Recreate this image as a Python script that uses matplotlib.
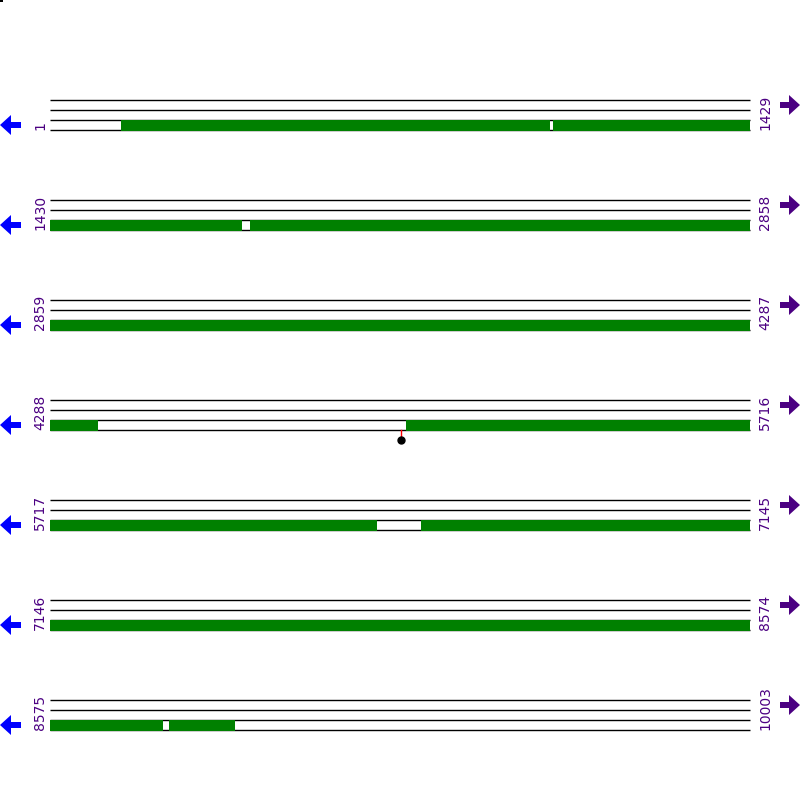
import matplotlib
matplotlib.use("Agg")
import matplotlib.pyplot as plt
from matplotlib.patches import Polygon, Rectangle

# ---- data ----
row_starts = [1, 1430, 2859, 4288, 5717, 7146, 8575]
row_ends = [1429, 2858, 4287, 5716, 7145, 8574, 10003]
green_starts = [146, 1028, 1430, 1838, 2859, 4288, 5014, 5717, 6475, 7146, 8575, 8818]
green_ends = [1021, 1429, 1821, 2858, 4287, 4384, 5716, 6384, 7145, 8574, 8805, 8952]
marker_positions = [5003]

# ---- style ----
GREEN = "#008000"
BLUE = "#0000ff"
PURPLE = "#4b0082"
W, H = 800, 800
row_pitch = 100
first_top = 100
left_px, right_px = 50, 750
n_tracks = 4
track_px = 10

fig = plt.figure(figsize=(8, 8), dpi=100)
fig.patch.set_facecolor("white")

# overlay axes in pixel coordinates for arrows / labels
ov = fig.add_axes([0, 0, 1, 1])
ov.set_xlim(0, W)
ov.set_ylim(H, 0)
ov.axis("off")
ov.add_patch(Rectangle((0, 0), 3, 2, color="black", lw=0))


def left_arrow(yc):
    pts = [(0, yc), (11, yc - 10), (11, yc - 3), (21, yc - 3), (21, yc + 3), (11, yc + 3), (11, yc + 10)]
    ov.add_patch(Polygon(pts, closed=True, color=BLUE, lw=0))


def right_arrow(yc):
    pts = [(800, yc), (789, yc - 10), (789, yc - 3), (780, yc - 3), (780, yc + 3), (789, yc + 3), (789, yc + 10)]
    ov.add_patch(Polygon(pts, closed=True, color=PURPLE, lw=0))


for i, (rs, re) in enumerate(zip(row_starts, row_ends)):
    top = first_top + i * row_pitch
    bottom = top + (n_tracks - 1) * track_px
    ax = fig.add_axes([left_px / W, 1 - bottom / H, (right_px - left_px) / W, (bottom - top) / H])
    ax.set_xlim(rs - 1, rs + 1428)
    ax.set_ylim(n_tracks - 1, 0)
    ax.axis("off")
    ax.patch.set_alpha(0)
    for t in range(n_tracks):
        ax.plot([rs - 1, rs + 1428], [t, t], color="black", lw=1,
                solid_capstyle="butt", clip_on=False, zorder=2)
    for gs, ge in zip(green_starts, green_ends):
        if gs >= rs and ge <= re:
            ax.add_patch(Rectangle((gs - 1, 1.97), ge - gs + 1, 1.1, color=GREEN, lw=0,
                                   zorder=3, clip_on=False))
    for m in marker_positions:
        if rs <= m <= re:
            ax.plot([m, m], [3, 4], color="red", lw=1, clip_on=False, zorder=4)
            ax.plot([m], [4], "o", color="black", ms=5, clip_on=False, zorder=5)

    left_arrow(top + 25)
    right_arrow(top + 5)
    ov.text(40, bottom, str(rs), rotation=90, ha="center", va="bottom",
            fontsize=10, color=PURPLE)
    ov.text(765, bottom, str(re), rotation=90, ha="center", va="bottom",
            fontsize=10, color=PURPLE)

fig.savefig("out.png", dpi=100, facecolor="white")
